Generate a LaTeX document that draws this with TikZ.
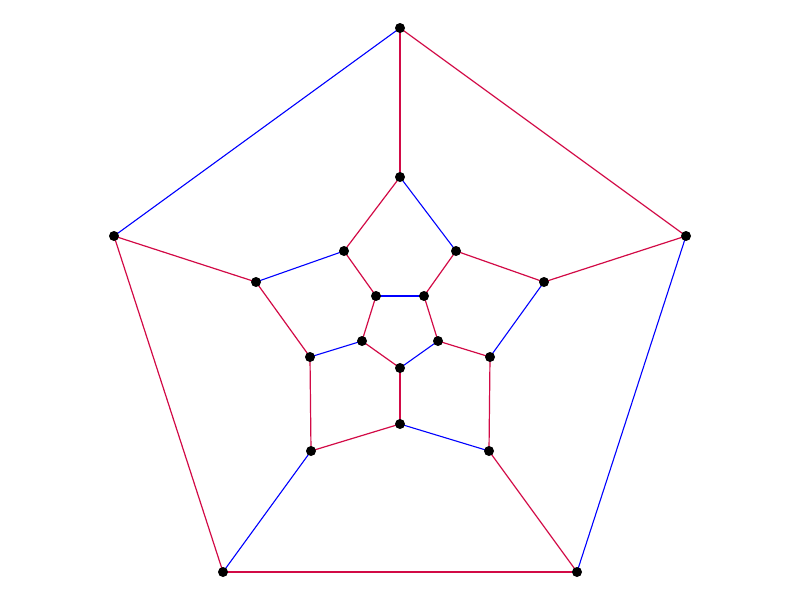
\documentclass[tikz,border=0pt]{standalone}
\definecolor{hamred}{RGB}{210,10,70}
\tikzset{
  vtx/.style={circle,fill=black,inner sep=0pt,minimum size=10pt},
  cyc/.style={draw=hamred,line width=1.2pt},
  oth/.style={draw=blue,line width=1.1pt}
}
\begin{document}
\begin{tikzpicture}[x=1pt,y=-1pt]
\useasboundingbox (0,0) rectangle (800,600);
% outer
\coordinate (o1) at (400,28);
\coordinate (o2) at (686,236);
\coordinate (o3) at (577,572);
\coordinate (o4) at (223,572);
\coordinate (o5) at (114,236);
% middle
\coordinate (m1) at (400,177);
\coordinate (m2) at (456,251);
\coordinate (m3) at (544,282);
\coordinate (m4) at (490,357);
\coordinate (m5) at (489,451);
\coordinate (m6) at (400,424);
\coordinate (m7) at (311,451);
\coordinate (m8) at (310,357);
\coordinate (m9) at (256,282);
\coordinate (m10) at (344,251);
% inner
\coordinate (i1) at (424,296);
\coordinate (i2) at (438,341);
\coordinate (i3) at (400,368);
\coordinate (i4) at (362,341);
\coordinate (i5) at (376,296);
% blue edges
\draw[oth] (o2)--(o3);
\draw[oth] (o5)--(o1);
\draw[oth] (o4)--(m7);
\draw[oth] (m1)--(m2);
\draw[oth] (m3)--(m4);
\draw[oth] (m5)--(m6);
\draw[oth] (m9)--(m10);
\draw[oth] (m8)--(i4);
\draw[oth] (i1)--(i5);
\draw[oth] (i2)--(i3);
% red (Hamiltonian cycle) edges
\draw[cyc] (o1)--(o2);
\draw[cyc] (o3)--(o4);
\draw[cyc] (o4)--(o5);
\draw[cyc] (o1)--(m1);
\draw[cyc] (o2)--(m3);
\draw[cyc] (o3)--(m5);
\draw[cyc] (o5)--(m9);
\draw[cyc] (m2)--(m3);
\draw[cyc] (m4)--(m5);
\draw[cyc] (m6)--(m7);
\draw[cyc] (m7)--(m8);
\draw[cyc] (m8)--(m9);
\draw[cyc] (m10)--(m1);
\draw[cyc] (m2)--(i1);
\draw[cyc] (m4)--(i2);
\draw[cyc] (m6)--(i3);
\draw[cyc] (m10)--(i5);
\draw[cyc] (i1)--(i2);
\draw[cyc] (i3)--(i4);
\draw[cyc] (i4)--(i5);
% vertices
\foreach \v in {o1,o2,o3,o4,o5,m1,m2,m3,m4,m5,m6,m7,m8,m9,m10,i1,i2,i3,i4,i5}
  \node[vtx] (n\v) at (\v) {};
\end{tikzpicture}
\end{document}
